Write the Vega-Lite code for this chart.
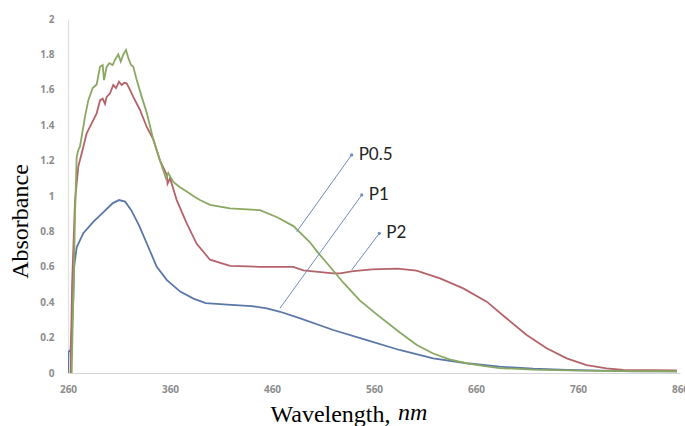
{
  "$schema": "https://vega.github.io/schema/vega-lite/v6.json",
  "width": 612,
  "height": 354,
  "autosize": {"type": "none"},
  "padding": {"left": 68, "top": 19, "right": 5, "bottom": 53},
  "background": "white",
  "config": {
    "view": {"stroke": null},
    "axis": {"labelOverlap": false, "labelFlush": false, "grid": false, "ticks": false},
    "axisY": {"labelOverlap": false}
  },
  "datasets": {
    "spectra": [
      {"nm": 260, "A": 0, "s": "P1"}, {"nm": 260.5, "A": 0.12, "s": "P1"}, {"nm": 262.5, "A": 0.13, "s": "P1"}, {"nm": 265, "A": 0.38, "s": "P1"}, {"nm": 266, "A": 0.6, "s": "P1"}, {"nm": 268.5, "A": 0.71, "s": "P1"}, {"nm": 275, "A": 0.79, "s": "P1"}, {"nm": 285, "A": 0.855, "s": "P1"}, {"nm": 295, "A": 0.91, "s": "P1"}, {"nm": 304, "A": 0.96, "s": "P1"}, {"nm": 310, "A": 0.977, "s": "P1"}, {"nm": 316, "A": 0.968, "s": "P1"}, {"nm": 322, "A": 0.92, "s": "P1"}, {"nm": 330, "A": 0.83, "s": "P1"}, {"nm": 340, "A": 0.695, "s": "P1"}, {"nm": 347, "A": 0.6, "s": "P1"}, {"nm": 357, "A": 0.525, "s": "P1"}, {"nm": 370, "A": 0.46, "s": "P1"}, {"nm": 383, "A": 0.42, "s": "P1"}, {"nm": 395, "A": 0.395, "s": "P1"}, {"nm": 420, "A": 0.385, "s": "P1"}, {"nm": 440, "A": 0.378, "s": "P1"}, {"nm": 455, "A": 0.365, "s": "P1"}, {"nm": 468, "A": 0.346, "s": "P1"}, {"nm": 487, "A": 0.31, "s": "P1"}, {"nm": 520, "A": 0.243, "s": "P1"}, {"nm": 553, "A": 0.186, "s": "P1"}, {"nm": 585, "A": 0.13, "s": "P1"}, {"nm": 618, "A": 0.083, "s": "P1"}, {"nm": 651, "A": 0.055, "s": "P1"}, {"nm": 683, "A": 0.036, "s": "P1"}, {"nm": 716, "A": 0.024, "s": "P1"}, {"nm": 749, "A": 0.017, "s": "P1"}, {"nm": 782, "A": 0.013, "s": "P1"}, {"nm": 814, "A": 0.01, "s": "P1"}, {"nm": 857, "A": 0.01, "s": "P1"},

      {"nm": 262.5, "A": 0, "s": "P2"}, {"nm": 264, "A": 0.5, "s": "P2"}, {"nm": 266.9, "A": 0.977, "s": "P2"}, {"nm": 270.1, "A": 1.166, "s": "P2"}, {"nm": 273.4, "A": 1.24, "s": "P2"}, {"nm": 278.3, "A": 1.354, "s": "P2"}, {"nm": 283.2, "A": 1.41, "s": "P2"}, {"nm": 288.1, "A": 1.467, "s": "P2"}, {"nm": 291.4, "A": 1.54, "s": "P2"}, {"nm": 294, "A": 1.55, "s": "P2"}, {"nm": 296.3, "A": 1.52, "s": "P2"}, {"nm": 297.9, "A": 1.56, "s": "P2"}, {"nm": 301.2, "A": 1.58, "s": "P2"}, {"nm": 304.4, "A": 1.627, "s": "P2"}, {"nm": 307.1, "A": 1.61, "s": "P2"}, {"nm": 310, "A": 1.646, "s": "P2"}, {"nm": 312.6, "A": 1.627, "s": "P2"}, {"nm": 315.2, "A": 1.64, "s": "P2"}, {"nm": 317.5, "A": 1.637, "s": "P2"}, {"nm": 320.8, "A": 1.6, "s": "P2"}, {"nm": 324, "A": 1.56, "s": "P2"}, {"nm": 330.6, "A": 1.486, "s": "P2"}, {"nm": 337.2, "A": 1.39, "s": "P2"}, {"nm": 343.6, "A": 1.32, "s": "P2"}, {"nm": 350.2, "A": 1.2, "s": "P2"}, {"nm": 356.8, "A": 1.12, "s": "P2"}, {"nm": 357.6, "A": 1.07, "s": "P2"}, {"nm": 360, "A": 1.1, "s": "P2"}, {"nm": 366.6, "A": 0.977, "s": "P2"}, {"nm": 376.4, "A": 0.845, "s": "P2"}, {"nm": 386.2, "A": 0.73, "s": "P2"}, {"nm": 399.2, "A": 0.64, "s": "P2"}, {"nm": 418.8, "A": 0.605, "s": "P2"}, {"nm": 448.2, "A": 0.6, "s": "P2"}, {"nm": 480.9, "A": 0.6, "s": "P2"}, {"nm": 490.7, "A": 0.58, "s": "P2"}, {"nm": 520.1, "A": 0.563, "s": "P2"}, {"nm": 526.7, "A": 0.563, "s": "P2"}, {"nm": 539.7, "A": 0.575, "s": "P2"}, {"nm": 558.1, "A": 0.585, "s": "P2"}, {"nm": 583, "A": 0.59, "s": "P2"}, {"nm": 601.7, "A": 0.578, "s": "P2"}, {"nm": 624.7, "A": 0.535, "s": "P2"}, {"nm": 647.5, "A": 0.478, "s": "P2"}, {"nm": 670.5, "A": 0.403, "s": "P2"}, {"nm": 690.1, "A": 0.308, "s": "P2"}, {"nm": 709.7, "A": 0.215, "s": "P2"}, {"nm": 729.3, "A": 0.14, "s": "P2"}, {"nm": 748.9, "A": 0.083, "s": "P2"}, {"nm": 768.5, "A": 0.045, "s": "P2"}, {"nm": 788, "A": 0.026, "s": "P2"}, {"nm": 804.4, "A": 0.017, "s": "P2"}, {"nm": 856.8, "A": 0.015, "s": "P2"},

      {"nm": 263.6, "A": 0, "s": "P0.5"}, {"nm": 265.5, "A": 0.5, "s": "P0.5"}, {"nm": 266.9, "A": 0.9, "s": "P0.5"}, {"nm": 268.5, "A": 1.22, "s": "P0.5"}, {"nm": 270.1, "A": 1.26, "s": "P0.5"}, {"nm": 271.8, "A": 1.28, "s": "P0.5"}, {"nm": 276.7, "A": 1.45, "s": "P0.5"}, {"nm": 279.9, "A": 1.54, "s": "P0.5"}, {"nm": 284.2, "A": 1.61, "s": "P0.5"}, {"nm": 288.1, "A": 1.63, "s": "P0.5"}, {"nm": 291.4, "A": 1.73, "s": "P0.5"}, {"nm": 294, "A": 1.74, "s": "P0.5"}, {"nm": 295.3, "A": 1.655, "s": "P0.5"}, {"nm": 297.9, "A": 1.73, "s": "P0.5"}, {"nm": 300.5, "A": 1.75, "s": "P0.5"}, {"nm": 303.8, "A": 1.74, "s": "P0.5"}, {"nm": 306.1, "A": 1.77, "s": "P0.5"}, {"nm": 309.3, "A": 1.8, "s": "P0.5"}, {"nm": 311.7, "A": 1.76, "s": "P0.5"}, {"nm": 314.2, "A": 1.8, "s": "P0.5"}, {"nm": 316.9, "A": 1.825, "s": "P0.5"}, {"nm": 319.1, "A": 1.78, "s": "P0.5"}, {"nm": 321.8, "A": 1.74, "s": "P0.5"}, {"nm": 324, "A": 1.73, "s": "P0.5"}, {"nm": 327.4, "A": 1.655, "s": "P0.5"}, {"nm": 332.3, "A": 1.56, "s": "P0.5"}, {"nm": 337.2, "A": 1.47, "s": "P0.5"}, {"nm": 343.6, "A": 1.32, "s": "P0.5"}, {"nm": 350.2, "A": 1.2, "s": "P0.5"}, {"nm": 356, "A": 1.1, "s": "P0.5"}, {"nm": 358.3, "A": 1.13, "s": "P0.5"}, {"nm": 363.2, "A": 1.08, "s": "P0.5"}, {"nm": 369.8, "A": 1.05, "s": "P0.5"}, {"nm": 376.4, "A": 1.025, "s": "P0.5"}, {"nm": 382.8, "A": 1.0, "s": "P0.5"}, {"nm": 389.4, "A": 0.977, "s": "P0.5"}, {"nm": 399.2, "A": 0.95, "s": "P0.5"}, {"nm": 418.8, "A": 0.93, "s": "P0.5"}, {"nm": 448.2, "A": 0.92, "s": "P0.5"}, {"nm": 465, "A": 0.88, "s": "P0.5"}, {"nm": 481, "A": 0.83, "s": "P0.5"}, {"nm": 497, "A": 0.74, "s": "P0.5"}, {"nm": 505, "A": 0.68, "s": "P0.5"}, {"nm": 514, "A": 0.62, "s": "P0.5"}, {"nm": 522, "A": 0.565, "s": "P0.5"}, {"nm": 530, "A": 0.51, "s": "P0.5"}, {"nm": 546, "A": 0.41, "s": "P0.5"}, {"nm": 563, "A": 0.33, "s": "P0.5"}, {"nm": 585, "A": 0.23, "s": "P0.5"}, {"nm": 602, "A": 0.158, "s": "P0.5"}, {"nm": 618, "A": 0.11, "s": "P0.5"}, {"nm": 634, "A": 0.077, "s": "P0.5"}, {"nm": 651, "A": 0.055, "s": "P0.5"}, {"nm": 667, "A": 0.04, "s": "P0.5"}, {"nm": 683, "A": 0.028, "s": "P0.5"}, {"nm": 716, "A": 0.019, "s": "P0.5"}, {"nm": 749, "A": 0.015, "s": "P0.5"}, {"nm": 782, "A": 0.012, "s": "P0.5"}, {"nm": 857, "A": 0.01, "s": "P0.5"}
    ],
    "notes": [
      {"label": "P0.5", "x0": 484.2, "y0": 0.798, "x1": 538.1, "y1": 1.232},
      {"label": "P1", "x0": 467.8, "y0": 0.366, "x1": 548, "y1": 1.006},
      {"label": "P2", "x0": 538.1, "y0": 0.582, "x1": 565.2, "y1": 0.789}
    ]
  },
  "layer": [
    {
      "data": {"name": "spectra"},
      "mark": {"type": "line", "strokeWidth": 1.8, "clip": true},
      "encoding": {
        "x": {
          "field": "nm", "type": "quantitative",
          "scale": {"domain": [260, 860], "nice": false, "zero": false},
          "axis": {
            "title": "Wavelength,",
            "values": [260, 360, 460, 560, 660, 760, 860],
            "domainColor": "#d4d4d4", "domainWidth": 1.2,
            "labelFont": "Open Sans", "labelFontSize": 10, "labelFontWeight": "bold",
            "labelColor": "#8c8c8c", "labelPadding": 11,
            "titleFont": "Liberation Serif", "titleFontSize": 24, "titleFontWeight": "normal", "titleColor": "#000000",
            "titleAlign": "left", "titleAnchor": "start", "titleBaseline": "alphabetic",
            "titleX": 202, "titleY": 48
          }
        },
        "y": {
          "field": "A", "type": "quantitative",
          "scale": {"domain": [0, 2], "nice": false},
          "axis": {
            "title": "Absorbance",
            "values": [0, 0.2, 0.4, 0.6, 0.8, 1, 1.2, 1.4, 1.6, 1.8, 2],
            "tickCount": 11,
            "format": ".1~f",
            "domainColor": "#e2e2e2", "domainWidth": 1.2,
            "labelFont": "Open Sans", "labelFontSize": 10, "labelFontWeight": "bold",
            "labelColor": "#8c8c8c", "labelPadding": 14,
            "titleFont": "Liberation Serif", "titleFontSize": 24, "titleFontWeight": "normal", "titleColor": "#000000",
            "titleAngle": -90, "titleAlign": "center", "titleBaseline": "alphabetic",
            "titleX": -41, "titleY": 202
          }
        },
        "color": {
          "field": "s", "type": "nominal",
          "scale": {"domain": ["P1", "P2", "P0.5"], "range": ["#5b77a8", "#b5636a", "#8aa862"]},
          "legend": null
        }
      }
    },
    {
      "data": {"name": "notes"},
      "mark": {"type": "rule", "color": "#6f8cbf", "strokeWidth": 1},
      "encoding": {
        "x": {"field": "x0", "type": "quantitative", "title": "Wavelength,"},
        "y": {"field": "y0", "type": "quantitative", "title": "Absorbance"},
        "x2": {"field": "x1"},
        "y2": {"field": "y1"}
      }
    },
    {
      "data": {"name": "notes"},
      "mark": {"type": "point", "filled": true, "size": 10, "color": "#6f8cbf", "opacity": 1},
      "encoding": {
        "x": {"field": "x1", "type": "quantitative", "title": "Wavelength,"},
        "y": {"field": "y1", "type": "quantitative", "title": "Absorbance"}
      }
    },
    {
      "data": {"name": "notes"},
      "mark": {"type": "text", "align": "left", "baseline": "middle", "dx": 7, "font": "Lato", "fontSize": 17, "color": "#222222"},
      "encoding": {
        "x": {"field": "x1", "type": "quantitative", "title": "Wavelength,"},
        "y": {"field": "y1", "type": "quantitative", "title": "Absorbance"},
        "text": {"field": "label"}
      }
    },
    {
      "data": {"values": [{"unit": "nm"}]},
      "mark": {"type": "text", "align": "left", "baseline": "alphabetic", "font": "Liberation Serif", "fontSize": 24, "fontStyle": "italic", "color": "#000000"},
      "encoding": {
        "x": {"datum": 583.5, "type": "quantitative", "title": "Wavelength,"},
        "y": {"datum": -0.268, "type": "quantitative", "title": "Absorbance"},
        "text": {"field": "unit"}
      }
    }
  ]
}
